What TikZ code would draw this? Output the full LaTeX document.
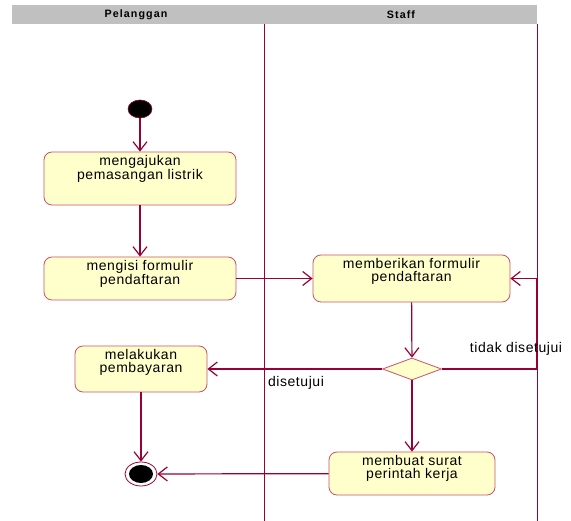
\documentclass[tikz,border=0pt]{standalone}
\usepackage{fontspec}
\setmainfont{Liberation Sans}[LetterSpace=4]
\newfontfamily\headfont{Liberation Sans}[LetterSpace=10]
\usetikzlibrary{arrows.meta,shapes.geometric}
\definecolor{umlline}{RGB}{153,0,51}
\definecolor{umlbox}{RGB}{255,255,204}
\definecolor{umledge}{RGB}{204,80,110}
\definecolor{umlhead}{RGB}{192,192,192}
\tikzset{
    action/.style={draw=umledge,fill=umlbox,rounded corners=8pt,line width=0.8pt,inner sep=0pt},
    txt/.style={anchor=north,yshift=-4pt,align=center,inner sep=0pt,font=\fontsize{14}{13}\selectfont},
    lbl/.style={font=\fontsize{14}{13}\selectfont,inner sep=0pt},
    head/.style={font=\fontsize{10.7}{12}\headfont\bfseries,inner sep=0pt},
    flow/.style={draw=umlline,line width=1.2pt,-{Straight Barb[length=9pt,width=14pt]}},
    lane/.style={draw=umlline,line width=1pt}
}
\begin{document}
\begin{tikzpicture}[x=1pt,y=-1pt]
        \useasboundingbox (0,0) rectangle (571,521);

        \fill[umlhead] (12,5) rectangle (537,24);
        \node[head] (pelanggan) at (136,14.5) {Pelanggan};
        \node[head] (staff) at (401,14.5) {Staff};
        \draw[lane] (264,24) -- (264,521);
        \draw[lane] (537,24) -- (537,521);

        \node[ellipse,fill=black,draw=umlline,line width=0.6pt,minimum width=24pt,minimum height=18pt,inner sep=0pt] (mulai) at (140,109) {};
        \node[action,minimum width=192pt,minimum height=53pt,label={[txt]north:{mengajukan\\pemasangan listrik}}] (ajukan) at (140,178.5) {};
        \node[action,minimum width=192pt,minimum height=43pt,label={[txt]north:{mengisi formulir\\pendaftaran}}] (isi) at (140,278.5) {};
        \node[action,minimum width=197pt,minimum height=47pt,label={[txt]north:{memberikan formulir\\pendaftaran}}] (beri) at (411.5,278.5) {};
        \node[diamond,draw=umledge,fill=umlbox,line width=0.8pt,aspect=2.7,minimum width=59pt,minimum height=22pt,inner sep=0pt] (cek) at (412,369) {};
        \node[action,minimum width=132pt,minimum height=46pt,label={[txt]north:{melakukan\\pembayaran}}] (bayar) at (141,369) {};
        \node[action,minimum width=166pt,minimum height=43pt,label={[txt]north:{membuat surat\\perintah kerja}}] (surat) at (412,473.5) {};
        \node[ellipse,draw=umlline,fill=white,line width=0.8pt,minimum width=32pt,minimum height=24pt,inner sep=0pt] (akhir) at (141,474) {};
        \fill[black] (akhir.center) ellipse (12pt and 9pt);
        \coordinate (balik) at (537,369);

        \draw[flow] (mulai) -- (ajukan);
        \draw[flow] (ajukan) -- (isi);
        \draw[flow] (isi) -- (beri);
        \draw[flow] (beri) -- (cek);
        \draw[flow] (cek) -- (bayar);
        \draw[flow] (cek.east) -- (balik) |- (beri.east);
        \draw[flow] (cek) -- (surat);
        \draw[flow] (bayar) -- (akhir);
        \draw[flow] (surat) -- (akhir);

        \node[lbl] (setuju) at (296,383) {disetujui};
        \node[lbl] (tolak) at (516,349) {tidak disetujui};
    \end{tikzpicture}
\end{document}
